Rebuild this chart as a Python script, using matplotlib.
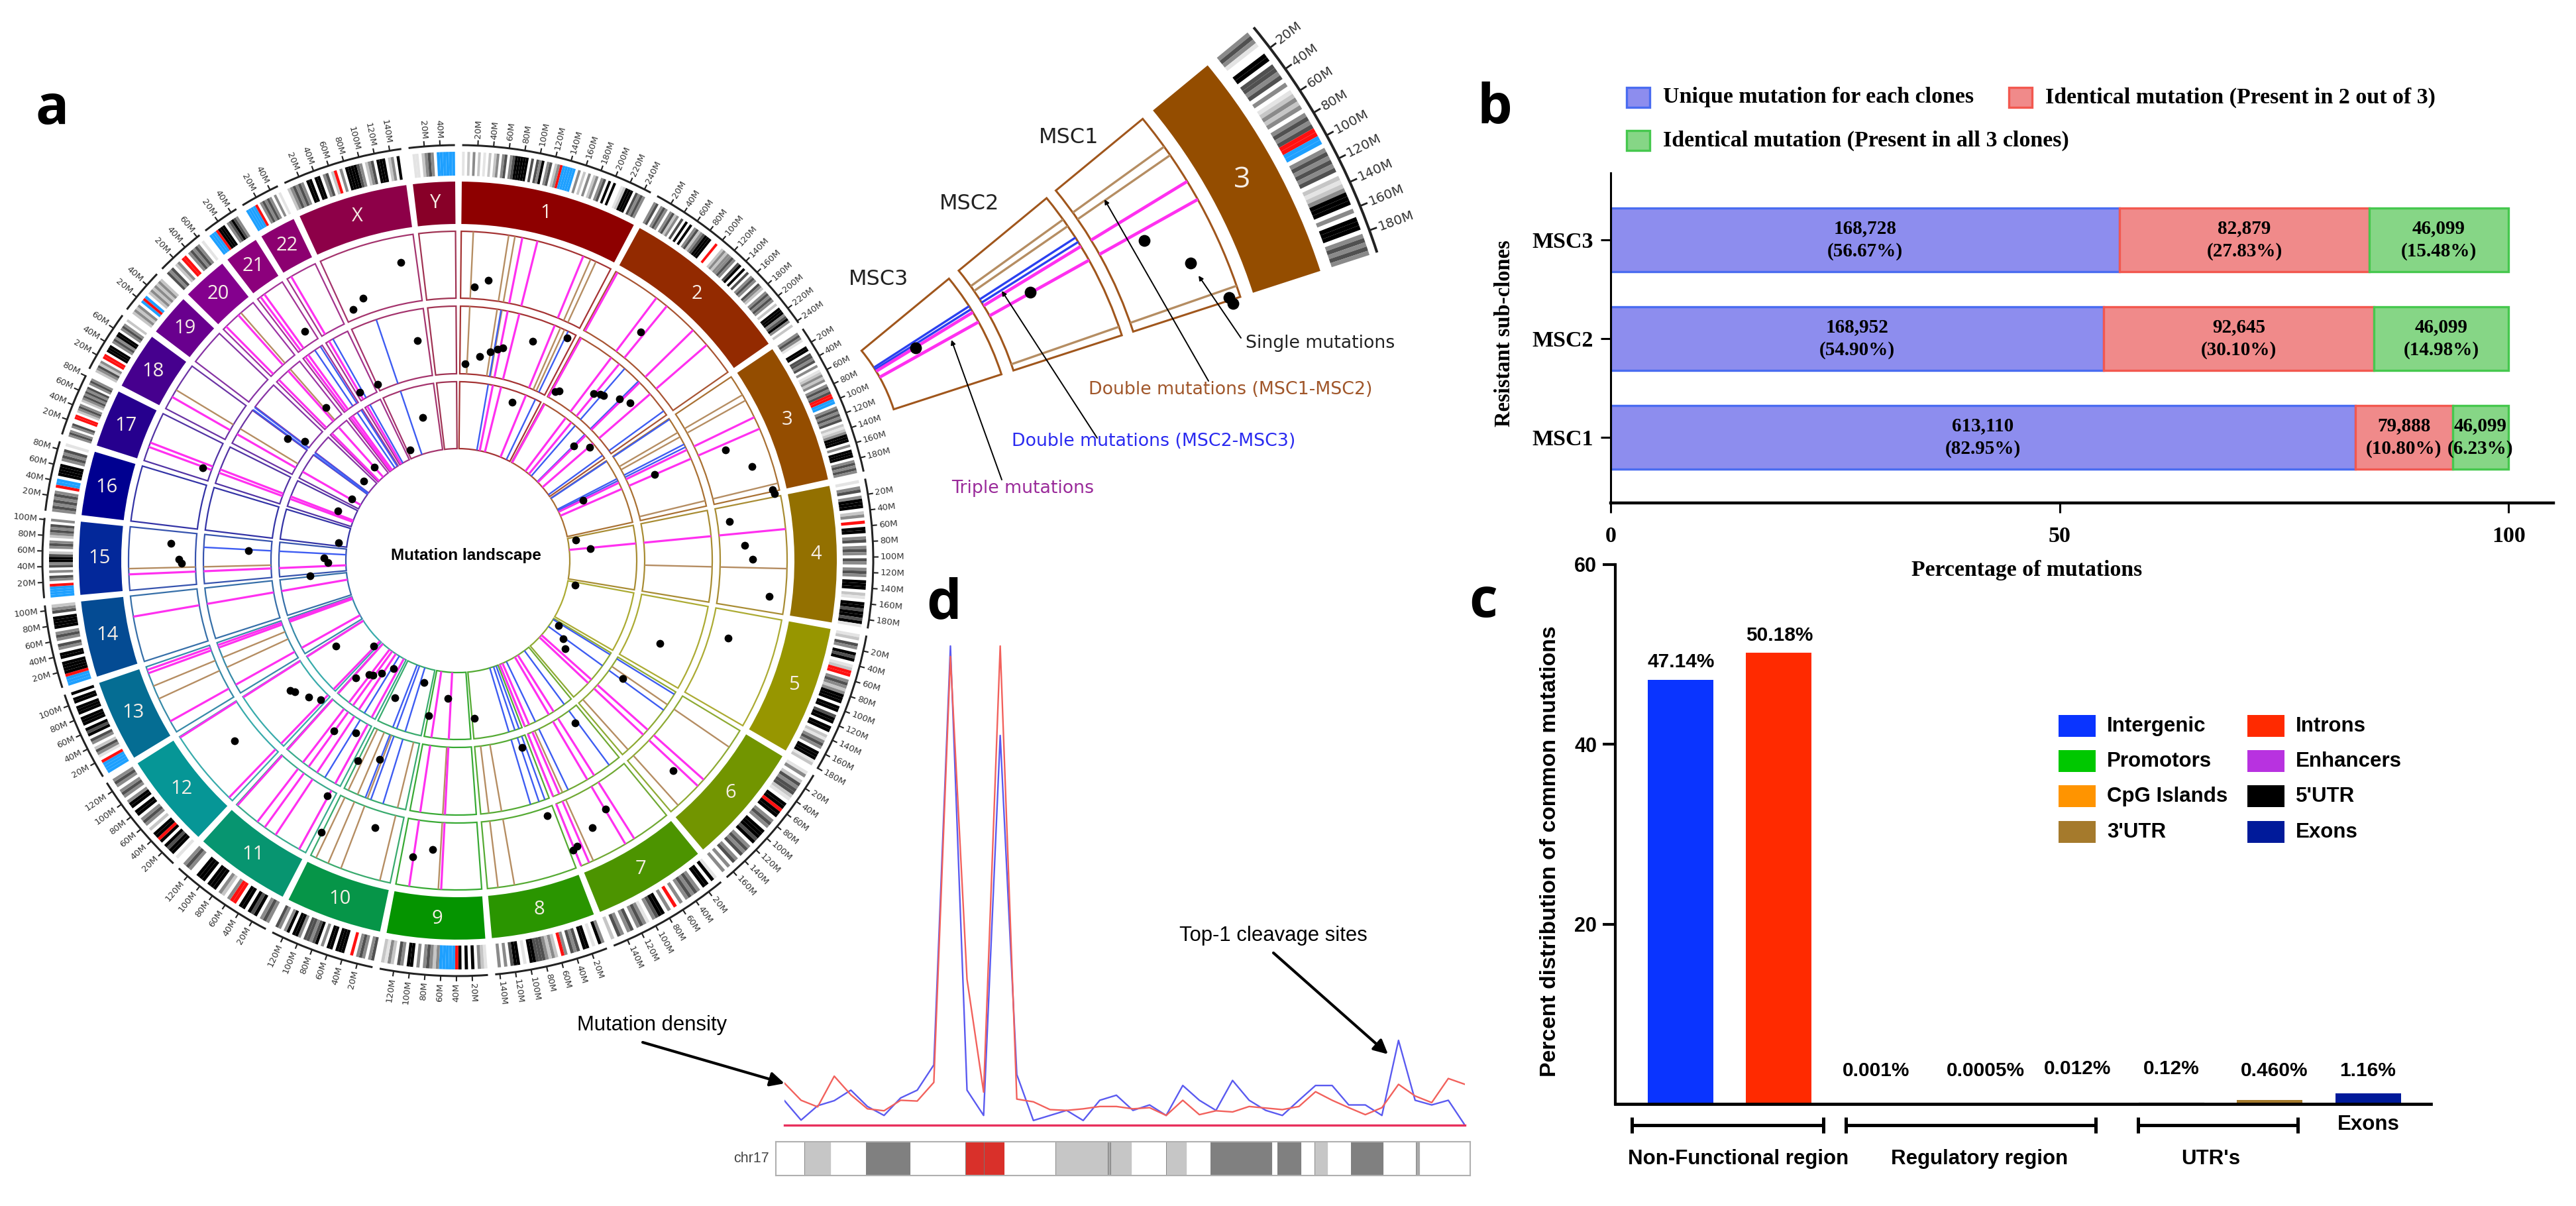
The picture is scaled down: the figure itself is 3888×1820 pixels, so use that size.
import numpy as np
import matplotlib
matplotlib.use('agg')
import matplotlib.pyplot as plt
from matplotlib.patches import Rectangle

W, H = 3888, 1820
fig = plt.figure(figsize=(W / 100, H / 100), dpi=100, facecolor='white')

###########################################################
# circos data (angles in degrees clockwise from the top)
###########################################################
chrom_names = ['1', '2', '3', '4', '5', '6', '7', '8', '9', '10', '11', '12',
               '13', '14', '15', '16', '17', '18', '19', '20', '21', '22', 'X', 'Y']
chrom_len = [249, 243, 198, 191, 181, 171, 159, 146, 138, 135, 135, 133,
             115, 107, 102, 90, 81, 80, 59, 64, 48, 51, 155, 59]
chrom_colors = ['#8e0000', '#932a00', '#944d00', '#937000', '#979600', '#729500',
                '#4c9400', '#2a9500', '#059400', '#069548', '#079570', '#069696',
                '#056d93', '#044b93', '#03289a', '#000090', '#26008e', '#46008e',
                '#69008e', '#84008e', '#8c007c', '#8c0070', '#8d0048', '#880028']

# one letter per equal slice of the chromosome, read clockwise
chrom_bands = [
    'ewlwgwlwewlwlgwgdwgdkkkkkwdwdgkwgdwlgrbbbbbwgwlwgwlgwgdwkwkwwelkkkwdgdgw',
    'gdwgdgwgdlgwdwkwkwgdlgdkkkwwrwwlglggdgwdkwkwdwgdgwdglwgdgdgwlwkkkgdkgwl',
    'gdgewwkkwddgdwgwelglgwgdgdrrbbwgdgdgdwlelgkkkwgwkkkwgdgdg',
    'ewgdwgkkkwlgwrwkkwgdwgdgwdgwgdgwkkkwlewkkdkkdke',
    'elwdgwkdkwelrrwgdglgkkkwkkwdkkwkkwlegdgwkkkel',
    'egwldgddlewkkrkkwgdgwkkkdkwgdgdwgdwgwg',
    'ekwkkwgdgdgwgwrwgwkkdgwegdgwdgwgdwl',
    'gkwewkkwdgdwgrwlglgdddkkwewkkdwgwgw',
    'elgwkwkwkrbbbbbglgdgwgwkkwgdwlgel',
    'dgwgdgwrwwkkkwkkwgwkdgddwgkkwkgwgd',
    'gdgwkdkwkkwrrgwlgwkkkwkkkwwgdg',
    'ewkkdkwkrkkwlwgdgwkkwkkgwgdgwgdg',
    'bbbbrwegdlwgdwkdkwkkkwkkkwkkwk',
    'bbbrkkkkwkkwgdwgdgwkkkkwdgl',
    'bbbbrwgdwgwdgkkdlwgdgwlgdgdwg',
    'gdgdgdgwrbbwkkkkwgdgdwe',
    'gdgwgdwwrrwlgdgwlgdgdgdwgdg',
    'lgdlgwrrwkkkwgdgkkwgdgwl',
    'lglgwbrbwlglglgl',
    'dgdwlgwrrwgdgdgwe',
    'bbbrkkkwgdkdgw',
    'bbbbrwgdgdgwgwe',
    'lgdgdgwkkwkkwgdwlrwgwkkkkdgwlgdwkkkwlgwkw',
    'weewlgdgwbbbbbb',
]
band_colors = {'e': '#e4e4e4', 'l': '#c6c6c6', 'g': '#8a8a8a', 'd': '#505050',
               'k': '#000000', 'r': '#ff1010', 'b': '#1ea0ff'}

triple_angles = [11.3, 14.0, 22.4, 29.0, 37.1, 39.4, 45.6, 49.1, 64.2, 66.4, 84.5, 131.7,
                 133.2, 147.6, 149.4, 156.5, 158.0, 182.9, 188.5, 208.8, 213.6, 215.9,
                 217.5, 222.0, 224.0, 237.5, 240.8, 250.0, 250.6, 260.2, 267.6, 290.2,
                 291.0, 299.8, 315.3, 318.2, 323.2, 324.0, 329.6]
double12_angles = [2.7, 8.9, 10.0, 23.8, 24.8, 59.8, 60.9, 76.4, 91.4, 124.5, 138.0, 155.7,
                   170.1, 173.0, 183.4, 193.7, 200.8, 203.2, 205.5, 208.8, 245.2, 247.6,
                   268.6, 301.2, 318.8]
double23_angles = [9.8, 25.7, 41.0, 45.2, 54.0, 56.3, 62.8, 63.5, 121.7, 126.0, 143.5, 154.3,
                   160.0, 161.4, 163.4, 197.1, 200.0, 201.3, 211.5, 273.0, 306.4, 307.0,
                   325.8, 327.3, 330.6, 341.3]

single_angles = [3.5, 6.2, 38.7, 2.1, 6.2, 8.8, 10.7, 11.9, 18.8, 26.2, 19.0, 29.9, 30.8, 39.2,
                 40.6, 41.5, 44.9, 47.5, 45.4, 49.4, 66.3, 64.4, 67.6, 72.3, 77.3, 78.1, 81.8,
                 87.0, 89.7, 80.2, 84.8, 96.5, 106.0, 112.3, 101.8, 122.7, 126.5, 129.4, 125.5,
                 144.1, 161.0, 174.1, 134.3, 149.3, 153.2, 157.3, 158.3, 160.7, 184.0, 190.7,
                 204.6, 195.6, 210.7, 214.2, 216.6, 217.9, 221.0, 224.4, 234.9, 232.3, 231.1,
                 227.5, 224.6, 216.0, 210.7, 206.6, 201.5, 209.0, 197.2, 206.7, 188.7, 185.0,
                 231.1, 264.0, 271.0, 269.0, 278.5, 272.7, 273.4, 270.3, 269.5, 292.6, 300.3,
                 290.0, 310.2, 318.1, 308.0, 305.6, 319.3, 326.3, 329.8, 335.5, 336.6, 346.3,
                 349.6, 337.4, 340.2, 349.2]
single_radius = [414, 425, 442, 297, 310, 319, 325, 328, 350, 374, 253, 294, 298, 325,
                 330, 332, 345, 352, 246, 262, 324, 210, 437, 466, 487, 489, 414,
                 434, 445, 181, 201, 473, 424, 330, 181, 181, 198, 210, 306,
                 302, 298, 239, 454, 436, 451, 467, 470, 408, 209, 238,
                 228, 191, 190, 205, 215, 218, 234, 181, 225, 320, 316,
                 305, 295, 318, 302, 338, 322, 406, 422, 459, 452, 438,
                 433, 224, 202, 196, 182, 316, 434, 421, 417, 196, 185,
                 410, 186, 189, 293, 316, 305, 416, 294, 292, 182, 222,
                 338, 411, 421, 458]

###########################################################
# panel b / c / d data
###########################################################
clones = ['MSC1', 'MSC2', 'MSC3']
unique_pct = [82.95, 54.90, 56.67]
two_of_three_pct = [10.80, 30.10, 27.83]
all_three_pct = [6.23, 14.98, 15.48]
unique_count = ['613,110', '168,952', '168,728']
two_of_three_count = ['79,888', '92,645', '82,879']
all_three_count = ['46,099', '46,099', '46,099']

regions = ['Intergenic', 'Introns', 'Promotors', 'Enhancers', 'CpG Islands', "5'UTR", "3'UTR", 'Exons']
region_pct = [47.14, 50.18, 0.001, 0.0005, 0.012, 0.12, 0.46, 1.16]
region_labels = ['47.14%', '50.18%', '0.001%', '0.0005%', '0.012%', '0.12%', '0.460%', '1.16%']
region_colors = ['#0a34ff', '#ff2a00', '#00c800', '#b832e0', '#ff9400', '#000000', '#a57a2c', '#001a9a']

density_blue = [63, 13, 50, 63, 90, 48, 25, 70, 90, 155, 1232, 90, 25, 1002, 130, 12, 25, 38, 12, 64, 77,
                38, 52, 25, 102, 64, 38, 115, 64, 38, 25, 64, 102, 102, 52, 52, 25, 218, 64, 52, 64, 0]
density_red = [108, 64, 47, 126, 78, 42, 37, 64, 62, 110, 1205, 375, 85, 1232, 67, 60, 40, 38, 42, 48, 48,
               42, 45, 25, 64, 27, 37, 34, 48, 44, 40, 48, 86, 64, 45, 27, 45, 105, 75, 58, 120, 105]

# chr17 bands: edges in Mb, shade per band
chr17_edges = [0, 3.3, 6.4, 10.5, 15.7, 22.1, 24.3, 26.7, 32.6, 38.7, 39, 41.5, 45.5, 47.9, 50.7,
               57.9, 58.5, 61.3, 62.8, 64.4, 67.1, 70.9, 74.7, 75.1, 81]
chr17_shades = ['#ffffff', '#c6c6c6', '#ffffff', '#808080', '#ffffff', '#d9302a', '#d9302a', '#ffffff',
                '#c6c6c6', '#a8a8a8', '#c6c6c6', '#ffffff', '#c6c6c6', '#ffffff', '#808080', '#ffffff',
                '#808080', '#ffffff', '#c6c6c6', '#ffffff', '#808080', '#ffffff', '#a8a8a8', '#ffffff']

###########################################################
# helpers
###########################################################
def px_axes(left, top, right, bottom, **kw):
    return fig.add_axes([left / W, 1 - bottom / H, (right - left) / W, (bottom - top) / H], **kw)

def polar_axes(cx, cy, rmax):
    ax = px_axes(cx - rmax, cy - rmax, cx + rmax, cy + rmax, projection='polar')
    ax.set_theta_zero_location('N')
    ax.set_theta_direction(-1)
    ax.set_rlim(0, rmax)
    ax.axis('off')
    return ax

def sector(ax, start, end, r0, r1, **kw):
    ax.bar(np.radians((start + end) / 2), r1 - r0, width=np.radians(end - start), bottom=r0, **kw)

def draw_bands(ax, start, end, bands, r0, r1):
    w = (end - start) / len(bands)
    for i, c in enumerate(bands):
        if c != 'w':
            sector(ax, start + i * w, start + (i + 1) * w, r0, r1, color=band_colors[c], linewidth=0)

def spoke(ax, angle, r0, r1, color, lw):
    ax.plot(np.radians([angle, angle]), [r0, r1], color=color, lw=lw, solid_capstyle='butt')

def draw_axis_ticks(ax, start, end, length, r_axis, tick, r_text, size, lw):
    sector(ax, start, end, r_axis - lw, r_axis + lw, color='#222222', linewidth=0)
    for m in range(20, length, 20):
        a = start + (end - start) * m / length
        spoke(ax, a, r_axis, r_axis + tick, '#222222', lw)
        rot = 90 - a if a < 180 else 270 - a
        ha = 'left' if a < 180 else 'right'
        ax.text(np.radians(a), r_text, '%dM' % m, rotation=rot, rotation_mode='anchor', ha=ha,
                va='center', fontsize=size, color='#333333', family='DejaVu Sans')

###########################################################
# panel a: circos
###########################################################
gap = 1.0
scale = (359.0 - 23 * gap) / sum(chrom_len)
starts = []
ends = []
pos = 0.6
for L in chrom_len:
    starts.append(pos)
    ends.append(pos + L * scale)
    pos += L * scale + gap

tracks = [(396, 497), (282, 384), (169, 270)]
ax_a = polar_axes(691, 846, 700)

for i, name in enumerate(chrom_names):
    s, e, c = starts[i], ends[i], chrom_colors[i]
    sector(ax_a, s, e, 508, 572, color=c, linewidth=0)
    mid = (s + e) / 2
    ax_a.text(np.radians(mid), 541, name, color='#f6eee6', fontsize=21, ha='center', va='center',
              family='Open Sans')
    draw_bands(ax_a, s, e, chrom_bands[i], 581, 617)
    draw_axis_ticks(ax_a, s, e, chrom_len[i], 627, 8, 638, 9.5, 1.5)
    for r0, r1 in tracks:
        sector(ax_a, s, e, r0, r1, facecolor='none', edgecolor=c, linewidth=1.6, alpha=0.8)

for a in double12_angles:
    spoke(ax_a, a, 282, 384, '#b58d62', 1.7)
    spoke(ax_a, a, 396, 497, '#b58d62', 1.7)
for a in double23_angles:
    spoke(ax_a, a, 169, 270, '#3d5cf2', 1.7)
    spoke(ax_a, a, 282, 384, '#3d5cf2', 1.7)
for a in triple_angles:
    for r0, r1 in tracks:
        spoke(ax_a, a, r0, r1, '#ff30f0', 2.3)
ax_a.scatter(np.radians(single_angles), single_radius, s=72, color='black', zorder=5, linewidths=0)

###########################################################
# panel a: chromosome 3 enlarged
###########################################################
ax_z = polar_axes(1092, 701, 1150)
shift = -5.6
zoom_tracks = [(650, 820), (460, 632), (270, 441)]
s3, e3 = starts[2] + shift, ends[2] + shift
lo3, hi3 = starts[2] + 1, ends[2] + 0.8
sector(ax_z, s3, e3, 840, 947, color='#944d00', linewidth=0)
ax_z.text(np.radians((s3 + e3) / 2), 893, '3', color='#f6eee6', fontsize=32, ha='center', va='center',
          family='Open Sans')
draw_bands(ax_z, s3, e3, chrom_bands[2], 965, 1025)
draw_axis_ticks(ax_z, s3, e3, 198, 1037, 12, 1052, 14.5, 2)
for r0, r1 in zoom_tracks:
    sector(ax_z, s3, e3, r0, r1, facecolor='none', edgecolor='#a0561c', linewidth=2.2)

for a in double12_angles:
    if lo3 < a < hi3:
        spoke(ax_z, a + shift, 460, 632, '#b58d62', 2.4)
        spoke(ax_z, a + shift, 650, 820, '#b58d62', 2.4)
for a in double23_angles:
    if lo3 < a < hi3:
        spoke(ax_z, a + shift, 270, 441, '#2a40f0', 2.4)
        spoke(ax_z, a + shift, 460, 632, '#2a40f0', 2.4)
for a in triple_angles:
    if lo3 < a < hi3:
        for r0, r1 in zoom_tracks:
            spoke(ax_z, a + shift, r0, r1, '#ff30f0', 3.4)
for a, r in zip(single_angles, single_radius):
    if lo3 < a < hi3:
        for (r0, r1), (z0, z1) in zip(tracks, zoom_tracks):
            if r0 <= r <= r1:
                ax_z.scatter(np.radians(a + shift), z0 + (r - r0) * (z1 - z0) / (r1 - r0), s=165,
                             color='black', zorder=5, linewidths=0)

###########################################################
# panel b: stacked bars
###########################################################
serif = 'Liberation Serif'
ax_b = px_axes(2431, 261, 3854, 759)
ypos = np.arange(3)
left = np.zeros(3)
stacks = [(unique_pct, unique_count, '#8d8dee', '#4a6cf0'),
          (two_of_three_pct, two_of_three_count, '#f08a8a', '#f2584f'),
          (all_three_pct, all_three_count, '#86d686', '#46c84e')]
for vals, counts, fill, edge in stacks:
    ax_b.barh(ypos, vals, left=left, height=0.65, color=fill, edgecolor=edge, linewidth=2.4)
    for i in range(3):
        ax_b.text(left[i] + vals[i] / 2, ypos[i], '%s\n(%.2f%%)' % (counts[i], vals[i]), ha='center',
                  va='center', family=serif, weight='bold', fontsize=21, linespacing=1.35)
    left = left + np.array(vals)
ax_b.set_xlim(0, 105)
ax_b.set_ylim(-0.664, 2.678)
ax_b.set_xticks([0, 50, 100])
ax_b.set_yticks(ypos)
ax_b.set_yticklabels(clones)
for lab in ax_b.get_xticklabels() + ax_b.get_yticklabels():
    lab.set_family(serif)
    lab.set_weight('bold')
    lab.set_fontsize(24.5)
ax_b.tick_params(length=11, width=2.2, pad=8)
ax_b.tick_params(axis='x', pad=14)
ax_b.spines['top'].set_visible(False)
ax_b.spines['right'].set_visible(False)
ax_b.spines['left'].set_linewidth(2.2)
ax_b.spines['bottom'].set_linewidth(3.2)

###########################################################
# panel c: genomic regions
###########################################################
sans = 'Liberation Sans'
ax_c = px_axes(2438, 852, 3669, 1666)
ax_c.bar(np.arange(8), region_pct, width=0.668, color=region_colors)
ax_c.set_xlim(-0.665, 7.64)
ax_c.set_ylim(0, 60)
ax_c.set_xticks([])
ax_c.set_yticks([20, 40, 60])
for lab in ax_c.get_yticklabels():
    lab.set_family(sans)
    lab.set_weight('bold')
    lab.set_fontsize(22)
ax_c.tick_params(length=14, width=3, pad=6)
ax_c.spines['top'].set_visible(False)
ax_c.spines['right'].set_visible(False)
ax_c.spines['left'].set_linewidth(3)
ax_c.spines['bottom'].set_linewidth(3.4)

###########################################################
# panel d: mutation density on chr17
###########################################################
ax_d = px_axes(1184, 935, 2211, 1698)
ax_d.plot(np.arange(42), density_blue, color='#5a5af0', lw=1.7)
ax_d.plot(np.arange(42), density_red, color='#f2615c', lw=1.7)
ax_d.axhline(0, color='#e8305c', lw=2.4, clip_on=False)
ax_d.set_xlim(0, 41)
ax_d.set_ylim(0, 1300)
ax_d.axis('off')

ax_i = px_axes(1171, 1723, 2219, 1774)
for i, shade in enumerate(chr17_shades):
    ax_i.barh(0, chr17_edges[i + 1] - chr17_edges[i], left=chr17_edges[i], height=1, color=shade,
              edgecolor='#777777' if shade != '#ffffff' else shade, linewidth=0.6)
ax_i.set_xlim(0, 81)
ax_i.set_ylim(-0.5, 0.5)
ax_i.set_xticks([])
ax_i.set_yticks([])
for sp in ax_i.spines.values():
    sp.set_color('#b0b0b0')
    sp.set_linewidth(1.5)

###########################################################
# texts, legends and arrows, all placed in picture pixels
###########################################################
ov = fig.add_axes([0, 0, 1, 1], zorder=10)
ov.set_xlim(0, W)
ov.set_ylim(H, 0)
ov.axis('off')

for letter, x, y in [('a', 79, 166), ('b', 2256, 164), ('c', 2239, 910), ('d', 1425, 912)]:
    ov.text(x, y, letter, fontsize=60, weight='bold', family='Open Sans', ha='center', va='center')

ov.text(703, 839, 'Mutation landscape', fontsize=17.5, weight='bold', family=sans, ha='center', va='center')

for text, x, y in [('MSC1', 1613, 208), ('MSC2', 1463, 307), ('MSC3', 1326, 421)]:
    ov.text(x, y, text, fontsize=23, family='DejaVu Sans', ha='center', va='center', color='#222222')
for text, x, y, c in [('Single mutations', 1993, 518, '#222222'),
                      ('Double mutations (MSC1-MSC2)', 1857, 588, '#a0562a'),
                      ('Double mutations (MSC2-MSC3)', 1741, 666, '#2a2af0'),
                      ('Triple mutations', 1544, 737, '#9a2a9a')]:
    ov.text(x, y, text, fontsize=19.3, family='DejaVu Sans', ha='center', va='center', color=c)
for x0, y0, x1, y1 in [(1873, 510, 1809, 416), (1824, 575, 1667, 301), (1656, 661, 1512, 439), (1512, 724, 1436, 513)]:
    ov.annotate('', xy=(x1, y1), xytext=(x0, y0),
                arrowprops=dict(arrowstyle='-|>', color='black', lw=1.4, mutation_scale=10, shrinkA=0, shrinkB=0))

# panel b legend and axis titles
for text, x, y, fill, edge in [('Unique mutation for each clones', 2455, 147, '#8d8dee', '#4a6cf0'),
                               ('Identical mutation (Present in 2 out of 3)', 3032, 147, '#f08a8a', '#f2584f'),
                               ('Identical mutation (Present in all 3 clones)', 2455, 212, '#86d686', '#46c84e')]:
    ov.add_patch(Rectangle((x, y - 15), 35, 30, facecolor=fill, edgecolor=edge, linewidth=2.4))
    ov.text(x + 55, y, text, fontsize=24.5, family=serif, weight='bold', ha='left', va='center')
ov.text(3059, 860, 'Percentage of mutations', fontsize=24.3, family=serif, weight='bold', ha='center', va='center')
ov.text(2270, 503, 'Resistant sub-clones', fontsize=23.5, family=serif, weight='bold', ha='center', va='center',
        rotation=90)

# panel c labels and legend
ov.text(2339, 1285, 'Percent distribution of common mutations', fontsize=24.3, family=sans, weight='bold',
        ha='center', va='center', rotation=90)
label_pos = [(2537, 999), (2686, 959), (2832, 1616), (2997, 1616), (3136, 1613), (3277, 1613), (3433, 1616), (3574, 1616)]
for text, (x, y) in zip(region_labels, label_pos):
    ov.text(x, y, text, fontsize=21.5, family=sans, weight='bold', ha='center', va='center')
legend_rows = [1096, 1149, 1202, 1256]
for i, name in enumerate(regions):
    row = legend_rows[i // 2]
    x = 3107 if i % 2 == 0 else 3392
    ov.add_patch(Rectangle((x, row - 17), 56, 33, facecolor=region_colors[i], linewidth=0))
    ov.text(x + 73, row, name, fontsize=22.5, family=sans, weight='bold', ha='left', va='center')
for x0, x1 in [(2463, 2752), (2786, 3163), (3227, 3468)]:
    ov.plot([x0, x1], [1698, 1698], color='black', lw=3.6, solid_capstyle='butt')
    ov.plot([x0, x0], [1686, 1710], color='black', lw=3.6, solid_capstyle='butt')
    ov.plot([x1, x1], [1686, 1710], color='black', lw=3.6, solid_capstyle='butt')
for text, x, y in [('Exons', 3575, 1697), ('Non-Functional region', 2624, 1749), ('Regulatory region', 2988, 1749),
                   ("UTR's", 3337, 1749)]:
    ov.text(x, y, text, fontsize=22.5, family=sans, weight='bold', ha='center', va='center')

# panel d labels and arrows
ov.text(984, 1547, 'Mutation density', fontsize=22.3, family=sans, ha='center', va='center')
ov.text(1922, 1412, 'Top-1 cleavage sites', fontsize=22.3, family=sans, ha='center', va='center')
ov.text(1161, 1748, 'chr17', fontsize=15.5, family=sans, ha='right', va='center', color='#444444')
for x0, y0, x1, y1 in [(970, 1573, 1184, 1635), (1922, 1438, 2095, 1591)]:
    ov.annotate('', xy=(x1, y1), xytext=(x0, y0),
                arrowprops=dict(arrowstyle='-|>', color='black', lw=3, mutation_scale=32, shrinkA=0, shrinkB=0))

plt.savefig('out.png', dpi=100)
